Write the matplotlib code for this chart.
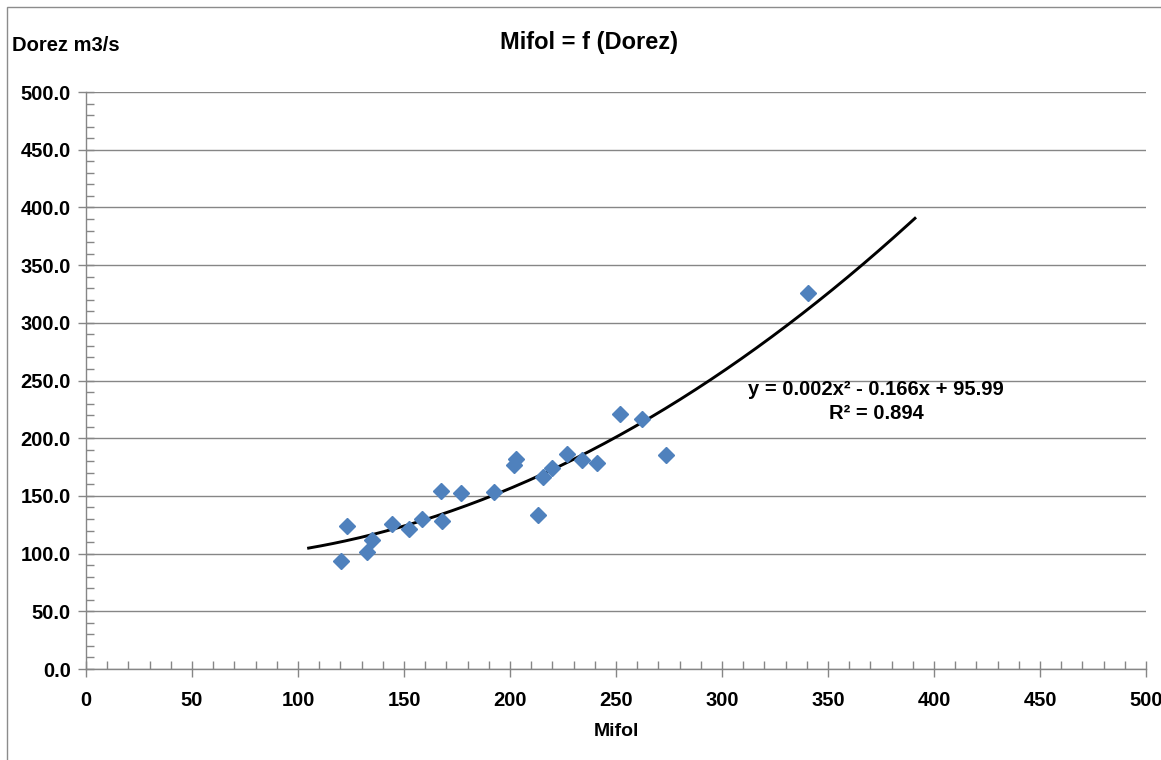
import numpy as np
import matplotlib.pyplot as plt
from matplotlib.patches import Rectangle
from matplotlib.ticker import MultipleLocator, FormatStrFormatter

# Mifol (x) / Dorez (y) measurements
mifol = [120.3, 123.1, 132.7, 134.9, 144.2, 152.2, 158.6, 167.3, 168.1, 176.9,
         192.6, 201.9, 202.8, 213.0, 215.4, 219.7, 226.7, 234.1, 240.9, 251.7,
         262.1, 273.7, 340.6]
dorez = [93.3, 123.9, 101.4, 111.5, 125.6, 121.3, 130.2, 154.2, 128.2, 152.2,
         153.4, 176.5, 182.0, 133.4, 166.6, 173.9, 186.6, 181.1, 178.5, 221.0,
         216.9, 185.4, 325.8]

# trendline range (with forecast backward/forward)
trend_start = 105
trend_end = 391

plt.rcParams['font.family'] = ['Liberation Sans', 'DejaVu Sans']
plt.rcParams['font.weight'] = 'bold'

fig = plt.figure(figsize=(11.61, 7.6), dpi=100)
ax = fig.add_axes([0.0741, 0.1197, 0.913, 0.7592])

grid_col = '#868686'

# polynomial trendline, order 2
coef = np.polyfit(mifol, dorez, 2)
xs = np.linspace(trend_start, trend_end, 200)
ax.plot(xs, np.polyval(coef, xs), color='black', lw=2.1, zorder=3)

ax.plot(mifol, dorez, 'D', color='#4F81BD', markersize=8, mec='#4F81BD', zorder=4)

ax.set_xlim(0, 500)
ax.set_ylim(0, 500)
ax.xaxis.set_major_locator(MultipleLocator(50))
ax.xaxis.set_minor_locator(MultipleLocator(10))
ax.yaxis.set_major_locator(MultipleLocator(50))
ax.yaxis.set_minor_locator(MultipleLocator(10))
ax.yaxis.set_major_formatter(FormatStrFormatter('%.1f'))

ax.grid(True, which='major', axis='y', color=grid_col, lw=1)
ax.set_axisbelow(True)
for s in ['top', 'right']:
    ax.spines[s].set_visible(False)
for s in ['left', 'bottom']:
    ax.spines[s].set_color(grid_col)
    ax.spines[s].set_linewidth(1)

ax.tick_params(which='major', direction='inout', length=12, width=1, color=grid_col,
               labelsize=14.5, pad=6)
ax.tick_params(which='minor', direction='in', length=6, width=1, color=grid_col)
ax.tick_params(axis='x', pad=10)
ax.tick_params(axis='y', pad=5)
for lab in ax.get_xticklabels() + ax.get_yticklabels():
    lab.set_fontweight('bold')

ax.set_xlabel('Mifol', fontsize=14, fontweight='bold', labelpad=9)

fig.text(0.507, 0.944, 'Mifol = f (Dorez)', fontsize=17, fontweight='bold',
         ha='center', va='center')
fig.text(0.010, 0.940, 'Dorez m3/s', fontsize=14.5, fontweight='bold',
         ha='left', va='center')

ax.text(372.6, 242.6, 'y = 0.002x² - 0.166x + 95.99', fontsize=14.5, fontweight='bold',
        ha='center', va='center')
ax.text(372.6, 221.8, 'R² = 0.894', fontsize=14.5, fontweight='bold',
        ha='center', va='center')

# chart border
fig.patches.append(Rectangle((7 / 1161, -0.01), 1.2, 1 - 7 / 760 + 0.01,
                             transform=fig.transFigure, fill=False,
                             edgecolor='#8c8c8c', lw=1))

fig.savefig('out.png', dpi=100)
